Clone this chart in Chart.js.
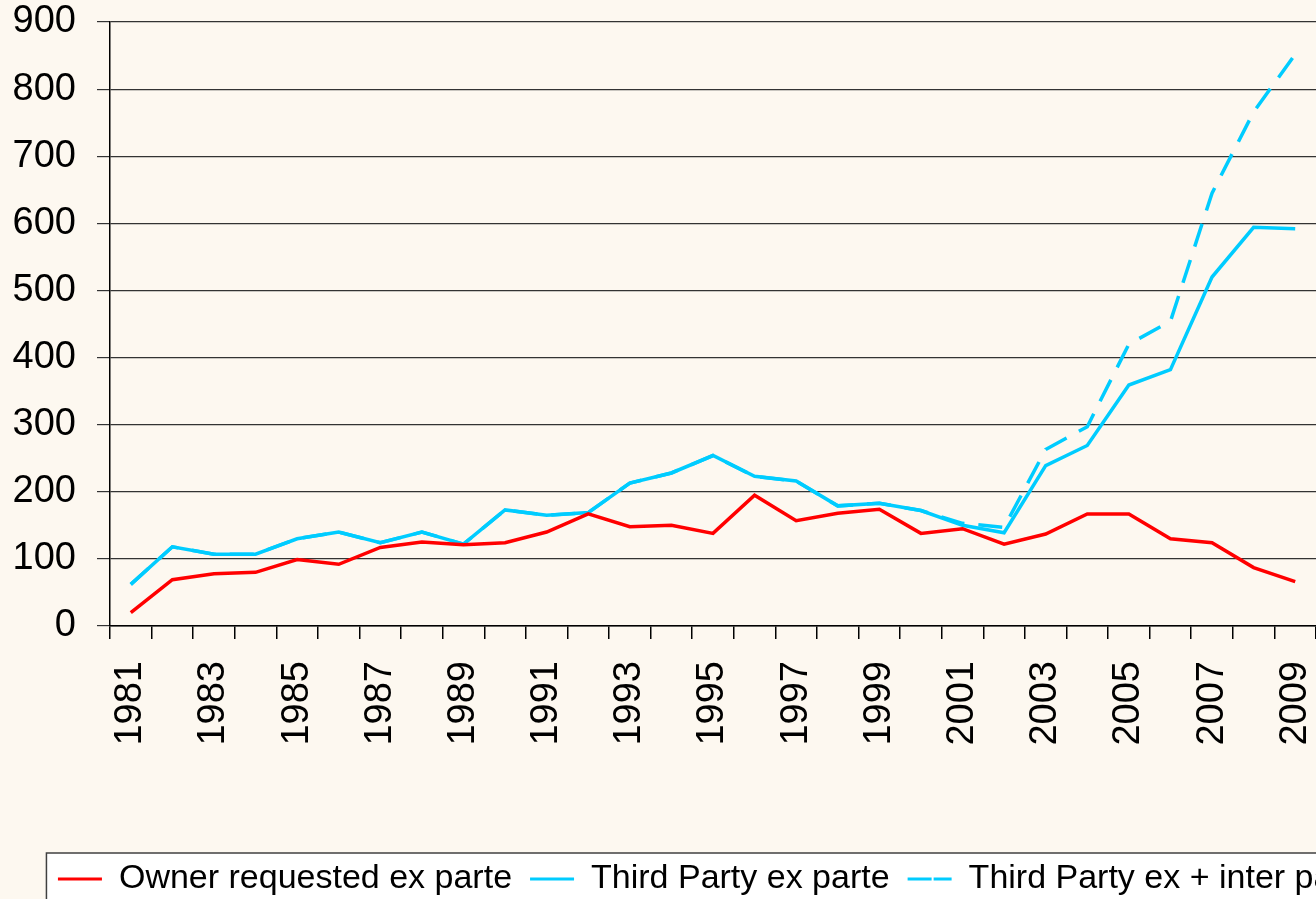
<!DOCTYPE html>
<html>
<head>
<meta charset="utf-8">
<script src="https://cdn.jsdelivr.net/npm/chart.js@4.4.0/dist/chart.umd.min.js"></script>
<style>
  html, body { margin: 0; padding: 0; overflow: hidden; background: #FDF8F0; }
  #wrap { width: 1437px; height: 930px; }
  canvas { display: block; }
</style>
</head>
<body>
<div id="wrap"><canvas id="c" width="1437" height="930"></canvas></div>
<script>
const years = [1981,1982,1983,1984,1985,1986,1987,1988,1989,1990,1991,1992,1993,1994,1995,1996,1997,1998,1999,2000,2001,2002,2003,2004,2005,2006,2007,2008,2009];
const ownerExParte = [20,69,78,80,99,92,117,125,121,124,140,167,148,150,138,195,157,168,174,138,145,122,137,167,167,130,124,87,66];
const thirdPartyExParte = [62,118,107,107,130,140,124,140,122,173,165,169,213,228,254,223,216,179,183,172,150,139,239,269,359,382,520,594,592];
const thirdPartyExInter = [62,118,107,107,130,140,124,140,122,173,165,169,213,228,254,223,216,179,183,172,153,147,263,297,420,454,645,766,852];
const yTicks = [0,100,200,300,400,500,600,700,800,900];
const seriesNames = ['Owner requested ex parte', 'Third Party ex parte', 'Third Party ex + inter partes'];

const FONT = 'Liberation Sans, Arial, sans-serif';

const bgPlugin = {
  id: 'bg',
  beforeDraw(chart) {
    const ctx = chart.ctx;
    ctx.save();
    ctx.fillStyle = '#FDF8F0';
    ctx.fillRect(0, 0, chart.width, chart.height);
    const lg = chart.legend;
    if (lg && lg.legendHitBoxes && lg.legendHitBoxes.length) {
      const first = lg.legendHitBoxes[0];
      const left = first.left - 11.5;
      const top = lg.top + 9;
      ctx.fillStyle = '#FFFFFF';
      ctx.fillRect(left, top, chart.width - left - 10, 80);
      ctx.strokeStyle = '#404040';
      ctx.lineWidth = 1.5;
      ctx.strokeRect(left, top, chart.width - left - 10, 80);
    }
    ctx.restore();
  }
};

new Chart(document.getElementById('c'), {
  type: 'line',
  data: {
    labels: years,
    datasets: [
      { label: seriesNames[0], data: ownerExParte, borderColor: '#FF0000', backgroundColor: '#FF0000', borderWidth: 3.5, pointRadius: 0, tension: 0, yAxisID: 'y' },
      { label: seriesNames[1], data: thirdPartyExParte, borderColor: '#00CCFF', backgroundColor: '#00CCFF', borderWidth: 3.5, pointRadius: 0, tension: 0, yAxisID: 'y' },
      { label: seriesNames[2], data: thirdPartyExInter, borderColor: '#00CCFF', backgroundColor: '#00CCFF', borderWidth: 3.5, borderDash: [24, 14], pointRadius: 0, tension: 0, yAxisID: 'y' }
    ]
  },
  options: {
    responsive: false,
    animation: false,
    layout: { padding: { top: 0, left: 10, right: 0, bottom: 24 } },
    plugins: {
      tooltip: { enabled: false },
      legend: {
        position: 'bottom',
        align: 'center',
        labels: {
          color: '#000',
          font: { family: FONT, size: 34 },
          boxWidth: 44,
          boxHeight: 0,
          padding: 18,
          generateLabels(chart) {
            return chart.data.datasets.map((ds, i) => ({
              text: ds.label,
              fillStyle: ds.borderColor,
              strokeStyle: ds.borderColor,
              lineWidth: 3,
              lineDash: ds.borderDash || [],
              lineCap: 'butt',
              hidden: false,
              datasetIndex: i
            }));
          }
        }
      }
    },
    scales: {
      x: {
        type: 'category',
        offset: true,
        grid: { display: true, drawOnChartArea: false, drawTicks: true, tickLength: 13, color: '#000', lineWidth: 1.5, offset: true },
        border: { display: true, color: '#000', width: 1.5 },
        ticks: {
          autoSkip: false, maxRotation: 90, minRotation: 90, padding: 22,
          color: '#000', font: { family: FONT, size: 38 },
          callback(value, index) { return index % 2 === 0 ? String(years[index]) : ''; }
        },
        afterFit(scale) { scale.height = 218; }
      },
      y: {
        min: 0, max: 900,
        afterBuildTicks(scale) { scale.ticks = yTicks.map(v => ({ value: v })); },
        grid: { color: '#333333', lineWidth: 1.2, tickLength: 13, drawTicks: true },
        border: { display: true, color: '#000', width: 1.5 },
        ticks: { padding: 21, color: '#000', font: { family: FONT, size: 38 } },
        afterFit(scale) { scale.width = 100; scale.paddingTop = 22; scale.paddingBottom = 22; }
      },
      y2: {
        position: 'right',
        display: true,
        grid: { display: false, drawTicks: false },
        border: { display: false },
        ticks: { display: false },
        afterFit(scale) { scale.width = 121; }
      }
    }
  },
  plugins: [bgPlugin]
});
</script>
</body>
</html>
